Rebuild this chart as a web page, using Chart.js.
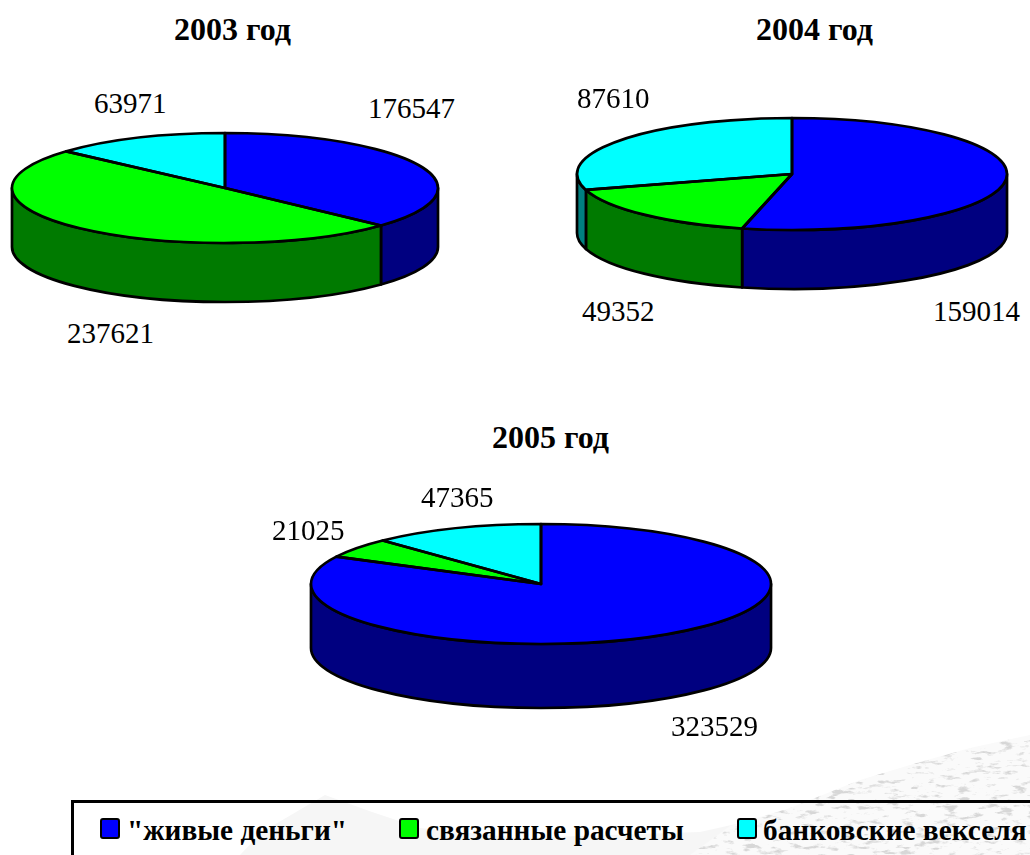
<!DOCTYPE html>
<html>
<head>
<meta charset="utf-8">
<title>2003-2005</title>
<script src="https://cdn.jsdelivr.net/npm/chart.js@4"></script>
<style>
  html, body { margin: 0; padding: 0; background: #fff; }
  body { position: relative; width: 1030px; height: 855px; overflow: hidden; font-family: "Liberation Serif", serif; color: #000; }
  canvas { position: absolute; }
  #hills { position: absolute; left: 0; top: 0; }
  .title { position: absolute; font-weight: bold; font-size: 32px; line-height: 32px; white-space: nowrap; }
  .num { position: absolute; font-size: 29px; line-height: 32px; white-space: nowrap; }
  #legend { position: absolute; left: 71px; top: 800px; width: 980px; height: 70px; border: 3px solid #000; box-sizing: border-box; }
  .swatch { position: absolute; top: 15px; width: 20px; height: 21px; border: 2.5px solid #000; border-radius: 3px; box-sizing: border-box; }
  .item { position: absolute; top: 11px; font-weight: bold; font-size: 29.3px; line-height: 32px; white-space: nowrap; }
</style>
</head>
<body>
<svg id="hills" width="1030" height="855">
  <defs>
    <filter id="grain" x="0" y="0" width="100%" height="100%">
      <feTurbulence type="fractalNoise" baseFrequency="0.07 0.2" numOctaves="4" seed="4" result="n"/>
      <feColorMatrix in="n" type="matrix" values="0 0 0 0 0.68  0 0 0 0 0.68  0 0 0 0 0.68  4 4 0 0 -4.3" result="g"/>
      <feComposite in="g" in2="SourceGraphic" operator="in" result="spots"/>
      <feMerge><feMergeNode in="SourceGraphic"/><feMergeNode in="spots"/></feMerge>
    </filter>
  </defs>
  <path d="M240 855 L262 832 L325 795 L372 812 L420 828 L520 838 L700 832 L790 812 L1030 812 L1030 855 Z" fill="#f6f6f6"/>
  <g filter="url(#grain)">
    <path d="M690 855 L730 826 L790 808 L860 780 L920 762 L970 748 L1030 735 L1030 855 Z" fill="#fafafa"/>
  </g>
</svg>

<canvas id="pie2003" style="left:6px;top:127px"></canvas>
<canvas id="pie2004" style="left:571px;top:112px"></canvas>
<canvas id="pie2005" style="left:305px;top:518px"></canvas>

<div id="legend"></div>

<script>
const categories = ['"живые деньги"', 'связанные расчеты', 'банковские векселя'];
const values2003 = [176547, 237621, 63971];
const values2004 = [159014, 49352, 87610];
const values2005 = [323529, 21025, 47365];
const topColors = ['#0000ff', '#00ff00', '#00ffff'];
const sideColors = ['#000080', '#007a00', '#008080'];

// top-left corners of the number labels, same order as the values
const labels2003 = [[368, 92], [67, 317], [94, 87]];
const labels2004 = [[933, 295], [582, 295], [577, 82]];
const labels2005 = [[671, 710], [272, 514], [421, 481]];

const titles = [['2003 год', 174, 13], ['2004 год', 756, 13], ['2005 год', 492, 421]];
const legendSpots = [[26, 53], [325, 352], [663, 689]];

const outline = 2.7;

// squash the flat Chart.js pie to an ellipse and give it a wall
const tiltPlugin = {
  id: 'tilt',
  beforeDatasetsDraw(chart, args, opts) {
    const ctx = chart.ctx;
    const arcs = chart.getDatasetMeta(0).data;
    const rx = arcs[0].outerRadius;
    const cx = arcs[0].x;
    const cy = opts.ry + 6;
    ctx.save();
    ctx.lineWidth = outline;
    ctx.strokeStyle = '#000';
    ctx.lineJoin = 'round';
    arcs.forEach((arc, i) => {
      const a = Math.max(arc.startAngle, 0);
      const b = Math.min(arc.endAngle, Math.PI);
      if (a >= b) return;
      ctx.beginPath();
      ctx.ellipse(cx, cy, rx, opts.ry, 0, a, b);
      ctx.lineTo(cx + rx * Math.cos(b), cy + opts.ry * Math.sin(b) + opts.depth);
      ctx.ellipse(cx, cy + opts.depth, rx, opts.ry, 0, b, a, true);
      ctx.closePath();
      ctx.fillStyle = sideColors[i];
      ctx.fill();
      ctx.stroke();
    });
    ctx.restore();
    ctx.save();
    ctx.translate(cx, cy);
    ctx.scale(1, opts.ry / rx);
    ctx.translate(-cx, -arcs[0].y);
  },
  afterDatasetsDraw(chart, args, opts) {
    const ctx = chart.ctx;
    ctx.restore();
    const arcs = chart.getDatasetMeta(0).data;
    const rx = arcs[0].outerRadius;
    const cx = arcs[0].x;
    const cy = opts.ry + 6;
    ctx.save();
    ctx.lineWidth = outline;
    ctx.strokeStyle = '#000';
    ctx.lineJoin = 'round';
    arcs.forEach(arc => {
      ctx.beginPath();
      ctx.moveTo(cx, cy);
      ctx.ellipse(cx, cy, rx, opts.ry, 0, arc.startAngle, arc.endAngle);
      ctx.closePath();
      ctx.stroke();
    });
    ctx.restore();
  }
};

function drawPie(id, values, radius, ry, depth) {
  const canvas = document.getElementById(id);
  canvas.width = radius * 2 + 12;
  canvas.height = ry * 2 + depth + 12;
  new Chart(canvas, {
    type: 'pie',
    data: { labels: categories, datasets: [{ data: values, backgroundColor: topColors, borderWidth: 0, radius: radius }] },
    options: {
      responsive: false,
      animation: false,
      events: [],
      plugins: { legend: { display: false }, tooltip: { enabled: false }, tilt: { ry: ry, depth: depth } },
    },
    plugins: [tiltPlugin],
  });
}

drawPie('pie2003', values2003, 213, 55, 59);
drawPie('pie2004', values2004, 215, 56, 59);
drawPie('pie2005', values2005, 230, 60, 64);

function addText(cls, text, left, top, parent) {
  const el = document.createElement('div');
  el.className = cls;
  el.textContent = text;
  el.style.left = left + 'px';
  el.style.top = top + 'px';
  (parent || document.body).appendChild(el);
}

titles.forEach(t => addText('title', t[0], t[1], t[2]));
values2003.forEach((v, i) => addText('num', v, labels2003[i][0], labels2003[i][1]));
values2004.forEach((v, i) => addText('num', v, labels2004[i][0], labels2004[i][1]));
values2005.forEach((v, i) => addText('num', v, labels2005[i][0], labels2005[i][1]));

const legend = document.getElementById('legend');
categories.forEach((name, i) => {
  const sw = document.createElement('div');
  sw.className = 'swatch';
  sw.style.left = legendSpots[i][0] + 'px';
  sw.style.background = topColors[i];
  legend.appendChild(sw);
  addText('item', name, legendSpots[i][1], 11, legend);
});
</script>
</body>
</html>
